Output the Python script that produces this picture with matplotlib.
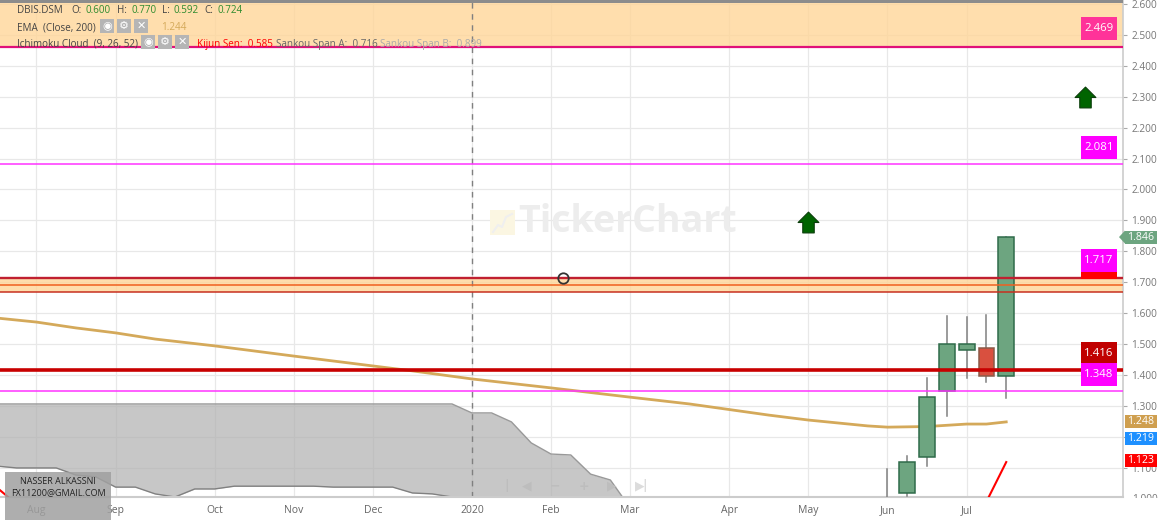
import matplotlib
matplotlib.use("Agg")
import matplotlib.pyplot as plt
from matplotlib.patches import Rectangle, Polygon
from matplotlib.path import Path

plt.rcParams['font.family'] = ['Open Sans', 'DejaVu Sans']

# x axis is in weeks, week 0 = first bar of Aug
month_weeks = [0, 4, 9, 13, 17, 22, 26, 30, 35, 39, 43, 47]
month_labels = ['Aug', 'Sep', 'Oct', 'Nov', 'Dec', '2020', 'Feb', 'Mar', 'Apr', 'May', 'Jun', 'Jul']
price_ticks = [1.1, 1.2, 1.3, 1.4, 1.5, 1.6, 1.7, 1.8, 1.9, 2.0, 2.1, 2.2, 2.3, 2.4, 2.5, 2.6]

candle_weeks = [43, 44, 45, 46, 47, 48, 49]
candle_open = [0.96, 1.018, 1.134, 1.348, 1.479, 1.487, 1.397]
candle_high = [1.096, 1.138, 1.390, 1.591, 1.588, 1.593, 1.846]
candle_low = [0.95, 1.008, 1.105, 1.267, 1.390, 1.378, 1.325]
candle_close = [1.0, 1.118, 1.329, 1.500, 1.500, 1.397, 1.846]

ema_weeks = [-2, 0, 2, 4, 6, 9, 13, 17, 19, 22, 26, 30, 33, 37, 39, 42, 43, 45, 47, 48, 49]
ema_vals = [1.584, 1.571, 1.552, 1.536, 1.516, 1.494, 1.461, 1.429, 1.413, 1.387, 1.358, 1.328,
            1.306, 1.270, 1.254, 1.235, 1.231, 1.233, 1.241, 1.241, 1.248]

cloud_weeks = list(range(-2, 31))
cloud_top = [1.306] * 24 + [1.277, 1.277, 1.248, 1.18, 1.144, 1.141, 1.079, 1.06, 0.97]
cloud_bot = [1.105, 1.099, 1.099, 1.099, 1.076, 1.07, 1.037, 1.037, 1.015, 1.005, 1.031, 1.031,
             1.04, 1.04, 1.04, 1.04, 1.04, 1.037, 1.037, 1.037, 1.037, 1.018, 1.015, 1.005,
             0.99, 0.97, 0.97, 0.97, 0.97, 0.97, 0.97, 0.97, 0.97]

kijun_weeks = [-1.84, -1.43]
kijun_vals = [1.027, 1.005]
kijun2_weeks = [48, 49]
kijun2_vals = [0.99, 1.118]

arrow_weeks = [39, 53]
arrow_vals = [1.895, 2.30]
circle_week = [26.6]
circle_val = [1.713]

band_top = [2.62, 2.462]
band_mid = [1.715, 1.668]
band_center = 1.691
line_2081 = 2.081
line_1416 = 1.416
line_1348 = 1.348

side_vals = [2.469, 2.081, 1.717, 1.416, 1.348]
side_cols = ['#FF3399', '#FF00FF', '#FF00FF', '#C00000', '#FF00FF']
tag_vals = [1.846, 1.248, 1.219, 1.123]
tag_cols = ['#6DA580', '#CF9F4F', '#1E90FF', '#FF0000']
tag_nudge = [0, 0, 8, 0]  # the app pushes tags apart so they do not collide

W, H = 1160, 520
PLOT_R, PLOT_B = 1123, 497
fig = plt.figure(figsize=(W / 100, H / 100), dpi=100)
ax = fig.add_axes([0, 1 - PLOT_B / H, PLOT_R / W, PLOT_B / H])
ax.set_xlim(-1.84, 54.9)
ax.set_ylim(1.005, 2.613)

ax.grid(True, color='#E8E8E8', lw=0.9)
ax.set_axisbelow(True)
ax.set_xticks(month_weeks)
ax.set_xticklabels(month_labels, fontsize=7.5, color='#666666')
ax.tick_params(axis='x', length=0, pad=6)
ax.yaxis.tick_right()
ax.set_yticks(price_ticks)
ax.set_yticklabels(['%.3f' % t for t in price_ticks], fontsize=7.3, color='#777777')
ax.tick_params(axis='y', length=3, color='#AAAAAA', pad=3)
for s in ['top', 'left']:
    ax.spines[s].set_visible(False)
ax.spines['right'].set_color('#CCCCCC')
ax.spines['bottom'].set_color('#CCCCCC')
ax.spines['right'].set_linewidth(1.2)
ax.spines['bottom'].set_linewidth(1.5)

# bands
ax.axhspan(band_top[1], band_top[0], color='#FFD699', alpha=0.8, lw=0, zorder=1)
ax.axhspan(band_mid[1], band_mid[0], color='#FFD699', alpha=0.8, lw=0, zorder=1)

# cloud
ax.fill_between(cloud_weeks, cloud_bot, cloud_top, color='#B0B0B0', alpha=0.7, lw=0, zorder=2)
ax.plot(cloud_weeks, cloud_top, color='#999999', lw=1, zorder=2)
ax.plot(cloud_weeks, cloud_bot, color='#808080', lw=1, zorder=2)

ax.axvline(22, color='#808080', lw=1, ls=(0, (4, 4)), zorder=2)

ax.plot(ema_weeks, ema_vals, color='#D4A95A', lw=2, zorder=3)
ax.plot(kijun_weeks, kijun_vals, color='#FF0000', lw=1.5, zorder=3)
ax.plot(kijun2_weeks, kijun2_vals, color='#FF0000', lw=1.5, zorder=3)

# candles
for w, o, h, l, c in zip(candle_weeks, candle_open, candle_high, candle_low, candle_close):
    up = c >= o
    ax.plot([w, w], [l, h], color='#808080', lw=1.1, zorder=3)
    ax.bar(w, abs(c - o), bottom=min(o, c), width=0.8,
           color='#6DA580' if up else '#D9503F',
           edgecolor='#2F6B4A' if up else '#8C5A48', lw=1.1, zorder=4)

# level lines
ax.axhline(band_top[1], color='#E0107A', lw=1.6, zorder=5)
ax.axhline(line_2081, color='#FF33FF', lw=1.1, zorder=5)
ax.axhline(band_mid[0], color='#C02030', lw=1.7, zorder=5)
ax.axhline(band_center, color='#F06020', lw=1.1, zorder=5)
ax.axhline(band_mid[1], color='#C83020', lw=1.1, zorder=5)
ax.axhline(line_1416, color='#C80000', lw=2.6, zorder=5)
ax.axhline(line_1348, color='#FF33FF', lw=1.1, zorder=5)

arrow = Path([(0, 1), (1, 0), (0.55, 0), (0.55, -1), (-0.55, -1), (-0.55, 0), (-1, 0), (0, 1)], closed=True)
ax.plot(arrow_weeks, arrow_vals, ls='', marker=arrow, ms=15, mfc='#006400', mec='#0A3D0A', mew=0.8, zorder=6)
ax.plot(circle_week, circle_val, ls='', marker='o', ms=7.5, mfc='none', mec='#333333', mew=1.3, zorder=6)

# overlay in pixels for chrome
ov = fig.add_axes([0, 0, 1, 1])
ov.set_xlim(0, W)
ov.set_ylim(H, 0)
ov.axis('off')
ov.patch.set_alpha(0)


def val_y(v):
    return H - ax.transData.transform((0, v))[1]


def box(x0, y0, x1, y1, col, **kw):
    ov.add_patch(Rectangle((x0, y0), x1 - x0, y1 - y0, facecolor=col, edgecolor='none', **kw))


ov.add_patch(Rectangle((0, 0), PLOT_R, 2.5, facecolor='#8C8C8C', edgecolor='none'))

# watermark
ov.text(518, 222, 'TickerChart', fontsize=27, fontweight='bold', color='#EDEDED', va='center', ha='left', zorder=1)
box(490, 210, 515, 235, '#FBF6E2', zorder=1)
ov.plot([493, 498, 502, 506, 512], [232, 225, 227, 217, 214], color='#EFEFEF', lw=1.5, zorder=1)

# side labels
for v, col in zip(side_vals, side_cols):
    y1 = val_y(v) - 5
    box(1081, y1 - 23, 1117, y1, col, zorder=3)
    ov.text(1099, y1 - 11.5, '%.3f' % v, color='white', fontsize=8.2, ha='center', va='center', zorder=4)
box(1081, val_y(side_vals[2]) - 5, 1117, val_y(side_vals[2]) + 2, '#FF0000', zorder=3)

for v, col, dy in zip(tag_vals, tag_cols, tag_nudge):
    y = val_y(v) + dy
    box(1125, y - 6.5, 1157, y + 6.5, col, zorder=3)
    ov.text(1141, y, '%.3f' % v, color='white', fontsize=7.6, ha='center', va='center', zorder=4)
y = val_y(tag_vals[0])
ov.add_patch(Polygon([(1125, y - 6.5), (1125, y + 6.5), (1119, y)], facecolor=tag_cols[0], edgecolor='none', zorder=3))

# half hidden 1.000 tick label
t = ov.text(1132, val_y(1.0) + 0.5, '1.000', fontsize=7.3, color='#777777', va='center', ha='left')
t.set_clip_on(True)
t.set_clip_path(Rectangle((1120, 0), 40, PLOT_B + 1, transform=ov.transData))

# legend rows
row1 = [(17, 'DBIS.DSM', '#444444'), (71, 'O:', '#444444'), (86, '0.600', '#2E8B2E'), (117, 'H:', '#444444'),
        (131, '0.770', '#2E8B2E'), (162, 'L:', '#444444'), (174, '0.592', '#2E8B2E'), (204, 'C:', '#444444'),
        (218, '0.724', '#2E8B2E')]
for x, s, c in row1:
    ov.text(x, 10.5, s, fontsize=7.1, color=c, va='center')
ov.text(17, 28, 'EMA  (Close, 200)', fontsize=7.1, color='#444444', va='center')
ov.text(161, 28, '1.244', fontsize=7.1, color='#D4A95A', va='center')
ov.text(17, 44, 'Ichimoku Cloud  (9, 26, 52)', fontsize=7.1, color='#444444', va='center')
ov.text(197, 44, 'Kijun Sen:  0.585', fontsize=7.1, color='#FF0000', va='center')
ov.text(276, 44, 'Sankou Span A:  0.716', fontsize=7.1, color='#666666', va='center')
ov.text(380, 44, 'Sankou Span B:  0.899', fontsize=7.1, color='#AAAAAA', va='center')

for (x0, y0), g in zip([(100, 19), (117, 19), (134, 19), (141, 35), (158, 35), (175, 35)],
                       ['\u25c9', '\u2699', '\u2715', '\u25c9', '\u2699', '\u2715']):
    box(x0, y0, x0 + 14, y0 + 14, '#B5B5B5', zorder=3)
    ov.text(x0 + 7, y0 + 7, g, fontsize=8, color='white', ha='center', va='center', zorder=4, family='DejaVu Sans')

# nav buttons
for x, g, c in zip([507, 527, 555, 584, 612, 640, 645],
                   ['|', '\u25c0', '\u2212', '+', '\u25b6', '\u25b6', '|'],
                   ['#BDBDBD', '#BDBDBD', '#BDBDBD', '#BDBDBD', '#BDBDBD', '#DCDCDC', '#DCDCDC']):
    ov.text(x, 486, g, fontsize=9, color=c, ha='center', va='center', family='DejaVu Sans', fontweight='bold')

# name box
box(5, 472, 111, H, '#A0A0A0', alpha=0.85, zorder=5)
ov.text(58, 482, 'NASSER ALKASSNI', fontsize=6.5, color='#222222', ha='center', va='center', zorder=6)
ov.text(58, 493, 'FX11200@GMAIL.COM', fontsize=6.5, color='#222222', ha='center', va='center', zorder=6)

fig.savefig('out.png', dpi=100)
